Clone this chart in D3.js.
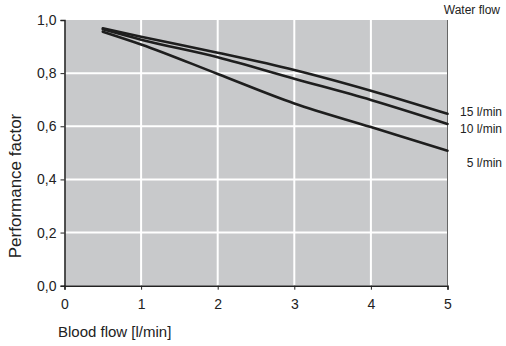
<!DOCTYPE html>
<html>
<head>
<meta charset="utf-8">
<script src="https://cdn.jsdelivr.net/npm/d3@7"></script>
<style>
  html, body { margin: 0; padding: 0; background: #fff; }
  svg { display: block; }
</style>
</head>
<body>
<svg id="chart" width="506" height="346"></svg>
<script>
// Blood flow values (l/min) at which the performance factor is given
const bloodFlow = [0.5, 1, 2, 3, 4, 5];

// Performance factor per water flow rate
const seriesNames = ["15 l/min", "10 l/min", "5 l/min"];
const water15 = [0.969, 0.937, 0.877, 0.812, 0.734, 0.647];
const water10 = [0.965, 0.926, 0.860, 0.779, 0.699, 0.609];
const water5  = [0.956, 0.908, 0.797, 0.686, 0.597, 0.508];
const seriesValues = [water15, water10, water5];

const xTicks = [0, 1, 2, 3, 4, 5];
const yTicks = [0, 0.2, 0.4, 0.6, 0.8, 1.0];

const svg = d3.select("#chart");
const margin = { left: 64.5, right: 506 - 447.5, top: 20, bottom: 346 - 285.7 };
const W = 506, H = 346;

const x = d3.scaleLinear().domain([0, 5]).range([margin.left, W - margin.right]);
const y = d3.scaleLinear().domain([0, 1]).range([H - margin.bottom, margin.top]);

const font = "Liberation Sans, Arial, sans-serif";
const narrow = "'Liberation Sans Narrow', 'Arial Narrow', Liberation Sans, sans-serif";

// plot background
svg.append("rect")
  .attr("x", x(0)).attr("y", y(1))
  .attr("width", x(5) - x(0)).attr("height", y(0) - y(1))
  .attr("fill", "#c8c9cb");

// white grid
const grid = svg.append("g").attr("stroke", "#fff").attr("stroke-width", 2);
xTicks.slice(1, -1).forEach(t => {
  grid.append("line").attr("x1", x(t)).attr("x2", x(t)).attr("y1", y(1)).attr("y2", y(0));
});
yTicks.slice(1, -1).forEach(t => {
  grid.append("line").attr("x1", x(0)).attr("x2", x(5)).attr("y1", y(t)).attr("y2", y(t));
});

// right frame edge
svg.append("line")
  .attr("x1", x(5)).attr("x2", x(5)).attr("y1", y(1)).attr("y2", y(0))
  .attr("stroke", "#666").attr("stroke-width", 1);

// axes
const fmt = d => d3.format(".1f")(d).replace(".", ",");
const yAxis = svg.append("g")
  .attr("transform", `translate(${x(0)},0)`)
  .call(d3.axisLeft(y).tickValues(yTicks).tickFormat(fmt).tickSize(4).tickPadding(4));
const xAxis = svg.append("g")
  .attr("transform", `translate(0,${y(0)})`)
  .call(d3.axisBottom(x).tickValues(xTicks).tickFormat(d3.format("d")).tickSize(4).tickPadding(9));

[yAxis, xAxis].forEach(a => {
  a.select(".domain").attr("stroke", "#222").attr("stroke-width", 1.5);
  a.selectAll(".tick line").attr("stroke", "#222");
  a.selectAll(".tick text").attr("fill", "#222").style("font-family", font).style("font-size", "14px");
});

// curves
const line = d3.line()
  .x((d, i) => x(bloodFlow[i]))
  .y(d => y(d))
  .curve(d3.curveMonotoneX);

svg.append("g")
  .selectAll("path")
  .data(seriesValues)
  .join("path")
  .attr("d", line)
  .attr("fill", "none")
  .attr("stroke", "#1e1e1e")
  .attr("stroke-width", 2.6)
  .attr("stroke-linecap", "round");

// series labels
const labelY = [113, 130, 164];
svg.append("g")
  .selectAll("text")
  .data(seriesNames)
  .join("text")
  .attr("x", 502)
  .attr("y", (d, i) => labelY[i])
  .attr("text-anchor", "end")
  .attr("dominant-baseline", "middle")
  .attr("fill", "#222")
  .style("font-family", narrow)
  .style("font-size", "12px")
  .text(d => d);

svg.append("text")
  .attr("x", 500).attr("y", 11)
  .attr("text-anchor", "end")
  .attr("dominant-baseline", "middle")
  .attr("fill", "#222")
  .style("font-family", narrow)
  .style("font-size", "12px")
  .text("Water flow");

// axis titles
svg.append("text")
  .attr("x", 58).attr("y", 337)
  .attr("fill", "#222")
  .style("font-family", font)
  .style("font-size", "15px")
  .text("Blood flow [l/min]");

svg.append("text")
  .attr("transform", "translate(21,186) rotate(-90)")
  .attr("text-anchor", "middle")
  .attr("fill", "#222")
  .style("font-family", font)
  .style("font-size", "17px")
  .text("Performance factor");
</script>
</body>
</html>
